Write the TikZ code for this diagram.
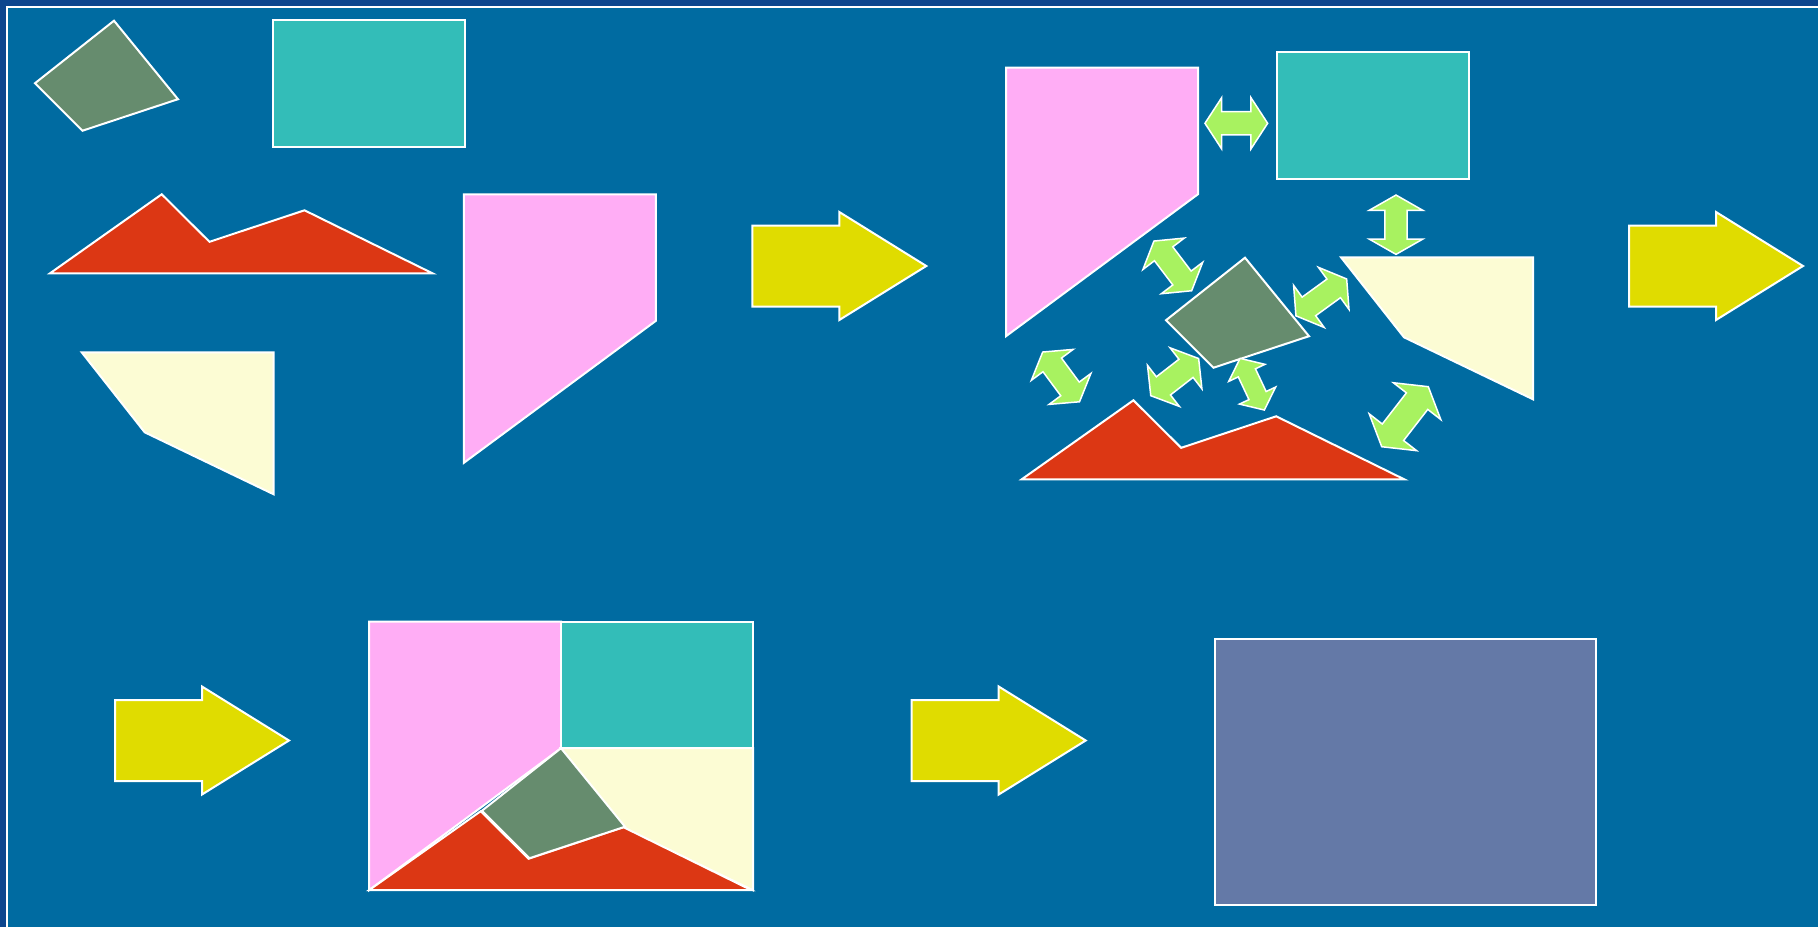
\documentclass[tikz,border=0pt]{standalone}
\definecolor{outerblue}{RGB}{12,70,142}
\definecolor{bgblue}{RGB}{0,107,161}
\definecolor{cpink}{RGB}{255,173,245}
\definecolor{cteal}{RGB}{51,189,184}
\definecolor{cgreen}{RGB}{102,140,110}
\definecolor{cred}{RGB}{220,55,20}
\definecolor{ccream}{RGB}{252,252,212}
\definecolor{cyel}{RGB}{224,220,0}
\definecolor{carrow}{RGB}{168,242,96}
\definecolor{cfinal}{RGB}{100,121,167}
\tikzset{
  piece/.style={draw=white,line width=2pt,line join=miter},
  garrow/.style={draw=white,line width=1.5pt,fill=carrow,line join=miter},
  pinkpiece/.pic={\draw[piece,fill=cpink] (0,0) -- (192,0) -- (192,126.5) -- (0,268.5) -- cycle;},
  tealpiece/.pic={\draw[piece,fill=cteal] (0,0) rectangle (192,126.5);},
  greenpiece/.pic={\draw[piece,fill=cgreen] (0,0) -- (64,78.5) -- (-31.5,110) -- (-79,62.5) -- cycle;},
  creampiece/.pic={\draw[piece,fill=ccream] (0,0) -- (192,0) -- (192,142) -- (63,80) -- cycle;},
  redpiece/.pic={\draw[piece,fill=cred] (0,0) -- (111.7,-79) -- (159.5,-31.5) -- (254.5,-63) -- (382.5,0) -- cycle;},
  yelarrow/.pic={\draw[piece,fill=cyel] (0,-40.5) -- (87,-40.5) -- (87,-54) -- (174,0) -- (87,54) -- (87,40.5) -- (0,40.5) -- cycle;}
}
% center x, center y, angle, length, head length, head width, shaft width
\newcommand\dblarr[7]{%
  \begin{scope}[shift={(#1,#2)},rotate=#3]
    \draw[garrow] ({-#4/2},0) -- ({-#4/2+#5},{#6/2}) -- ({-#4/2+#5},{#7/2})
      -- ({#4/2-#5},{#7/2}) -- ({#4/2-#5},{#6/2}) -- ({#4/2},0)
      -- ({#4/2-#5},{-#6/2}) -- ({#4/2-#5},{-#7/2}) -- ({-#4/2+#5},{-#7/2})
      -- ({-#4/2+#5},{-#6/2}) -- cycle;
  \end{scope}}
\begin{document}
\begin{tikzpicture}[x=1pt,y=-1pt]
  \useasboundingbox (0,0) rectangle (1818,927);
  % background and frame
  \fill[outerblue] (0,0) rectangle (1818,927);
  \fill[bgblue] (7.3,6.6) rectangle (1818,927);
  \draw[white,line width=2pt] (7.3,927) -- (7.3,6.6) -- (1818,6.6);

  % group 1: loose pieces
  \pic at (114,20.7) {greenpiece};
  \pic at (272.7,20) {tealpiece};
  \pic at (50,273.3) {redpiece};
  \pic at (463.9,194.3) {pinkpiece};
  \pic at (81.7,352.3) {creampiece};

  % arrows
  \pic at (752.3,266) {yelarrow};
  \pic at (1629,266) {yelarrow};
  \pic at (115,740.5) {yelarrow};
  \pic at (911.7,740.5) {yelarrow};

  % group 2: pieces with exchange arrows
  \pic at (1006,67.7) {pinkpiece};
  \pic at (1277.3,52.3) {tealpiece};
  \pic at (1245,257.7) {greenpiece};
  \pic at (1341,257.3) {creampiece};
  \pic at (1021.7,479.3) {redpiece};

  \dblarr{1236.3}{123.3}{0}{62.7}{16.7}{51.3}{23.3}
  \dblarr{1396}{224.7}{90}{59.3}{15.3}{53.7}{22.3}
  \dblarr{1172.8}{265.9}{-52.8}{62.4}{16}{52}{23}
  \dblarr{1321.3}{297.4}{36}{62.7}{16}{52}{23}
  \dblarr{1061.1}{376.9}{-53.5}{61.9}{16}{52}{23}
  \dblarr{1174.7}{377.1}{37.8}{60.6}{16}{52}{23}
  \dblarr{1252.2}{384.2}{-64.8}{57.1}{16}{40}{19}
  \dblarr{1405}{416.7}{52.2}{76}{18.3}{60}{27}

  % group 3: assembled rectangle
  \pic at (369,621.7) {pinkpiece};
  \pic at (561,621.7) {tealpiece};
  \pic at (561,748.2) {creampiece};
  \pic at (369,890.2) {redpiece};
  \pic at (561,748.2) {greenpiece};

  % final rectangle
  \draw[piece,fill=cfinal] (1214.5,639) rectangle (1595.5,905);
\end{tikzpicture}
\end{document}
